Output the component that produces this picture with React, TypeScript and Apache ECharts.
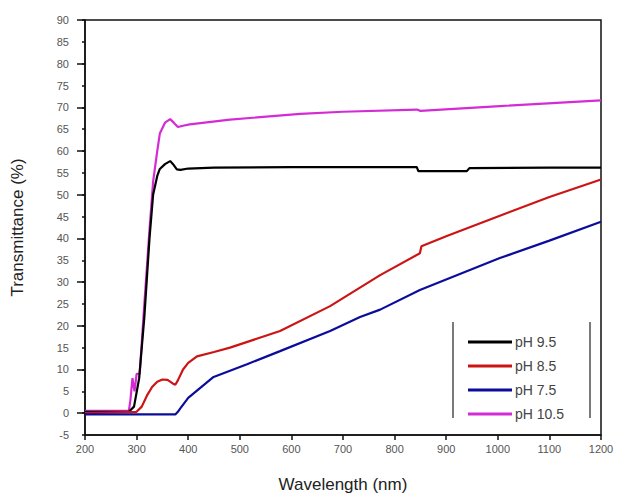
import React, { useEffect, useRef } from "react";
import * as echarts from "echarts";

const xTicks = [200, 300, 400, 500, 600, 700, 800, 900, 1000, 1100, 1200];
const yMajorTicks = [0, 10, 20, 30, 40, 50, 60, 70, 80, 90];
const seriesNames = ["pH 9.5", "pH 8.5", "pH 7.5", "pH 10.5"];
const seriesColors = ["#000000", "#cc1414", "#0c0c9c", "#d42cd4"];

// pH 9.5 (black)
const wl95 = [200, 285, 295, 305, 315, 325, 332, 340, 345, 355, 365, 372, 378, 385, 400, 450, 600, 700, 843, 846, 940, 945, 1100, 1200];
const t95 = [0.3, 0.3, 1.5, 8, 22, 40, 50, 54.3, 55.9, 57, 57.7, 56.8, 55.8, 55.7, 56, 56.2, 56.3, 56.3, 56.3, 55.4, 55.4, 56.1, 56.2, 56.2];

// pH 8.5 (red)
const wl85 = [200, 300, 310, 320, 330, 340, 350, 360, 370, 375, 380, 390, 400, 417, 450, 481, 578, 675, 772, 849, 852, 900, 1004, 1100, 1200];
const t85 = [0, 0.3, 1.5, 4, 6, 7.2, 7.7, 7.6, 6.8, 6.5, 7.5, 10, 11.5, 13, 14, 15, 18.8, 24.5, 31.6, 36.6, 38.2, 40.5, 45.2, 49.5, 53.5];

// pH 7.5 (blue)
const wl75 = [200, 375, 380, 384, 400, 448, 514, 578, 675, 733, 772, 849, 1004, 1100, 1200];
const t75 = [-0.3, -0.3, 0.3, 1, 3.5, 8.2, 11.2, 14.2, 18.8, 22, 23.7, 28.2, 35.5, 39.5, 43.8];

// pH 10.5 (magenta)
const wl105 = [200, 285, 288, 292, 296, 300, 306, 315, 325, 332, 340, 345, 355, 365, 372, 380, 390, 403, 481, 617, 700, 843, 850, 1004, 1200];
const t105 = [0.5, 0.5, 3, 8, 5, 9, 9, 25, 42, 53, 60, 64, 66.5, 67.3, 66.5, 65.5, 65.8, 66.1, 67.2, 68.5, 69, 69.5, 69.2, 70.3, 71.6];

const seriesWl = [wl95, wl85, wl75, wl105];
const seriesT = [t95, t85, t75, t105];

export default function App() {
  const ref = useRef<HTMLDivElement>(null);
  useEffect(() => {
    if (!ref.current) return;
    const chart = echarts.init(ref.current, null, { renderer: "svg" });
    const font = "Liberation Sans, Arial, sans-serif";
    chart.setOption({
      animation: false,
      backgroundColor: "#ffffff",
      grid: {
        left: 85,
        right: 17,
        top: 20,
        bottom: 60,
        show: true,
        borderColor: "#111",
        borderWidth: 1.5,
        backgroundColor: "transparent",
      },
      xAxis: {
        type: "value",
        min: 200,
        max: 1200,
        interval: 100,
        name: "Wavelength (nm)",
        nameLocation: "middle",
        nameGap: 41,
        nameTextStyle: { fontFamily: font, fontSize: 17, color: "#222" },
        axisLine: { show: true, onZero: false, lineStyle: { color: "#111", width: 1.5 } },
        axisTick: { show: true, length: 5, lineStyle: { color: "#111", width: 1.5 } },
        axisLabel: {
          fontFamily: font,
          fontSize: 11,
          color: "#555",
          margin: 8,
          formatter: (v: number) => (xTicks.includes(v) ? String(v) : ""),
        },
        splitLine: { show: false },
      },
      yAxis: [
        {
          type: "value",
          min: -5,
          max: 90,
          interval: 5,
          name: "Transmittance (%)",
          nameLocation: "middle",
          nameGap: 59,
          nameTextStyle: { fontFamily: font, fontSize: 17, color: "#222" },
          axisLine: { show: true, onZero: false, lineStyle: { color: "#111", width: 1.5 } },
          axisTick: { show: true, length: 3, lineStyle: { color: "#111", width: 1.5 } },
          axisLabel: { fontFamily: font, fontSize: 11, color: "#555", margin: 16 },
          splitLine: { show: false },
        },
        {
          type: "value",
          position: "left",
          min: -5,
          max: 90,
          interval: 5,
          axisLine: { show: false },
          axisTick: {
            show: true,
            length: 8,
            customValues: yMajorTicks,
            lineStyle: { color: "#111", width: 1.5 },
          },
          axisLabel: { show: false },
          splitLine: { show: false },
        },
      ],
      legend: {
        orient: "vertical",
        left: 463,
        top: 329,
        itemWidth: 44,
        itemHeight: 3,
        itemGap: 8,
        icon: "rect",
        textStyle: {
          fontFamily: font,
          fontSize: 14,
          lineHeight: 16,
          color: "#444",
          padding: [0, 0, 0, -2],
        },
        data: seriesNames,
      },
      graphic: [
        { type: "line", shape: { x1: 453, y1: 322, x2: 453, y2: 418 }, style: { stroke: "#222", lineWidth: 1.2 } },
        { type: "line", shape: { x1: 590, y1: 322, x2: 590, y2: 418 }, style: { stroke: "#222", lineWidth: 1.2 } },
      ],
      series: seriesNames.map((name, i) => ({
        name,
        type: "line",
        showSymbol: false,
        symbol: "none",
        smooth: false,
        lineStyle: { color: seriesColors[i], width: 2.2 },
        itemStyle: { color: seriesColors[i] },
        data: seriesWl[i].map((w, j) => [w, seriesT[i][j]]),
        z: i === 3 ? 1 : 2,
      })),
    });
    return () => chart.dispose();
  }, []);
  return (
    <div
      ref={ref}
      style={{ position: "absolute", left: 0, top: 0, width: 618, height: 498 }}
    />
  );
}
